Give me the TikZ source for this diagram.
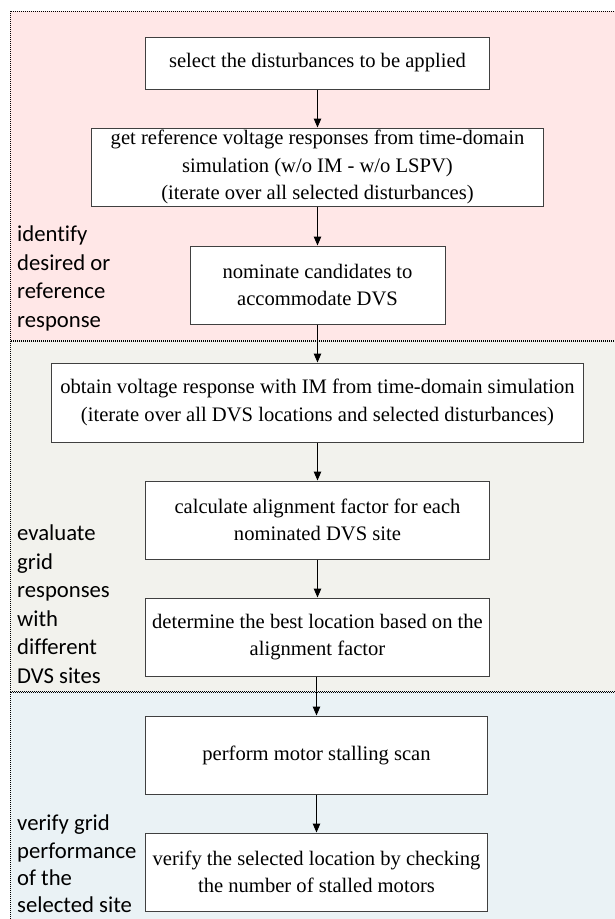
\documentclass[tikz,border=0pt]{standalone}
\usepackage{fontspec}
\setmainfont{Liberation Serif}
\newfontfamily\labfont[Ligatures=CommonOff]{Carlito}
\usetikzlibrary{arrows.meta}
\definecolor{pinkbg}{RGB}{255,231,231}
\definecolor{greybg}{RGB}{242,242,237}
\definecolor{bluebg}{RGB}{234,242,245}
\definecolor{boxline}{RGB}{64,64,64}
\tikzset{
  panel/.style={draw=black, line width=0.8bp, dash pattern=on 1bp off 1bp},
  stepbox/.style={draw=boxline, fill=white, line width=1bp, align=center, inner sep=0pt,
    font=\fontsize{20.6bp}{27.5bp}\selectfont},
  sidelabel/.style={anchor=north west, align=left, inner sep=0pt,
    font=\labfont\fontsize{22.7bp}{28.5bp}\selectfont},
  flow/.style={draw=black, line width=1bp, -{Triangle[length=9bp,width=7.5bp]}}
}
\begin{document}
\begin{tikzpicture}[x=1bp,y=-1bp]
\useasboundingbox (0,0) rectangle (615,919);
\begin{scope}
\clip (0,0) rectangle (615,919);
\fill[pinkbg] (10,11) rectangle (625,340);
\fill[greybg] (10,340) rectangle (625,691);
\fill[bluebg] (10,691) rectangle (625,930);
\draw[panel] (10,11) rectangle (625,340);
\draw[panel] (10,341) rectangle (625,691);
\draw[panel] (10,692) rectangle (625,930);
\end{scope}

\node[stepbox, minimum width=343bp, minimum height=52bp] (b1) at (317.5,63) {select the disturbances to be applied};
\node[stepbox, minimum width=451bp, minimum height=78bp] (b2) at (317.5,167) {get reference voltage responses from time-domain\\simulation (w/o IM - w/o LSPV)\\(iterate over all selected disturbances)};
\node[stepbox, minimum width=255bp, minimum height=78bp] (b3) at (317.5,285) {nominate candidates to\\accommodate DVS};
\node[stepbox, minimum width=531bp, minimum height=79bp] (b4) at (317.5,402.5) {obtain voltage response with IM from time-domain simulation\\(iterate over all DVS locations and selected disturbances)};
\node[stepbox, minimum width=343bp, minimum height=78bp] (b5) at (317.5,520) {calculate alignment factor for each\\nominated DVS site};
\node[stepbox, minimum width=343bp, minimum height=78bp] (b6) at (317.5,637) {determine the best location based on the\\alignment factor};
\node[stepbox, minimum width=342bp, minimum height=78bp] (b7) at (316.5,755) {perform motor stalling scan};
\node[stepbox, minimum width=342bp, minimum height=78bp] (b8) at (316.5,872) {verify the selected location by checking\\the number of stalled motors};

\draw[flow] (b1) -- (b2);
\draw[flow] (b2) -- (b3);
\draw[flow] (b3) -- (b4);
\draw[flow] (b4) -- (b5);
\draw[flow] (b5) -- (b6);
\draw[flow] (b6.south -| b7.north) -- (b7);
\draw[flow] (b7) -- (b8);

\node[sidelabel] (l1) at (17,226) {identify\\desired or\\reference\\response};
\node[sidelabel] (l2) at (17,525) {evaluate\\grid\\responses\\with\\different\\DVS sites};
\node[sidelabel, font=\labfont\fontsize{22.7bp}{27.3bp}\selectfont] (l3) at (17,815) {verify grid\\performance\\of the\\selected site};
\end{tikzpicture}
\end{document}
